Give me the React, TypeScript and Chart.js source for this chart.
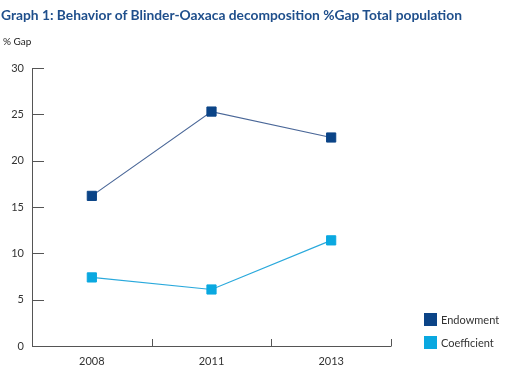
import React, { useEffect, useRef } from "react";
import { Chart, registerables } from "chart.js";

Chart.register(...registerables);

const title = "Graph 1: Behavior of Blinder-Oaxaca decomposition %Gap Total population";
const yAxisTitle = "% Gap";
const categories = ["2008", "2011", "2013"];
const endowment = [16.2, 25.3, 22.5];
const coefficient = [7.4, 6.1, 11.4];
const seriesLabels = ["Endowment", "Coefficient"];
const pointColors = ["#0b4487", "#0aa8e0"];
const lineColors = ["#4a6798", "#2aa9dc"];

const FONT = "Lato, 'Open Sans', sans-serif";
const AXIS = "#555555";

const tickPlugin = {
  id: "inwardTicks",
  afterDraw(chart: any) {
    const { ctx, chartArea, scales } = chart;
    const x = scales.x;
    const y = scales.y;
    ctx.save();
    ctx.strokeStyle = AXIS;
    ctx.lineWidth = 1;
    ctx.beginPath();
    ctx.moveTo(chartArea.left + 0.5, chartArea.top);
    ctx.lineTo(chartArea.left + 0.5, chartArea.bottom + 0.5);
    ctx.lineTo(chartArea.right + 0.5, chartArea.bottom + 0.5);
    y.ticks.forEach((t: any) => {
      const py = Math.round(y.getPixelForValue(t.value)) + 0.5;
      ctx.moveTo(chartArea.left, py);
      ctx.lineTo(chartArea.left + 12, py);
    });
    for (let i = 0; i < categories.length; i++) {
      const p0 = x.getPixelForValue(i);
      const p1 = i < categories.length - 1 ? x.getPixelForValue(i + 1) : p0 + (p0 - x.getPixelForValue(i - 1));
      const px = Math.round((p0 + p1) / 2) + 0.5;
      ctx.moveTo(px, chartArea.bottom);
      ctx.lineTo(px, chartArea.bottom - 7);
    }
    ctx.stroke();
    ctx.restore();
  },
};

export default function App() {
  const ref = useRef<HTMLCanvasElement | null>(null);
  useEffect(() => {
    document.body.style.margin = "0";
    const chart = new Chart(ref.current as HTMLCanvasElement, {
      type: "line",
      data: {
        labels: categories,
        datasets: [
          {
            label: seriesLabels[0],
            data: endowment,
            borderColor: lineColors[0],
            borderWidth: 1.2,
            backgroundColor: pointColors[0],
            pointBackgroundColor: pointColors[0],
            pointBorderColor: pointColors[0],
            pointBorderWidth: 1,
            pointStyle: "rect",
            pointRadius: 6.5,
            tension: 0,
          },
          {
            label: seriesLabels[1],
            data: coefficient,
            borderColor: lineColors[1],
            borderWidth: 1.2,
            backgroundColor: pointColors[1],
            pointBackgroundColor: pointColors[1],
            pointBorderColor: pointColors[1],
            pointBorderWidth: 1,
            pointStyle: "rect",
            pointRadius: 6.5,
            tension: 0,
          },
        ],
      },
      options: {
        animation: false,
        responsive: false,
        layout: { padding: { top: 68, right: 131, left: 0, bottom: 0 } },
        plugins: { legend: { display: false }, tooltip: { enabled: false } },
        scales: {
          x: {
            type: "category",
            offset: true,
            grid: { display: false, drawTicks: false },
            border: { display: false },
            ticks: { color: "#333", font: { family: FONT, size: 11 }, padding: 9 },
            afterFit: (s: any) => { s.height = 28; },
          },
          y: {
            min: 0,
            max: 30,
            grid: { display: false, drawTicks: false },
            border: { display: false },
            ticks: { stepSize: 5, color: "#333", font: { family: FONT, size: 11 }, padding: 8 },
            afterFit: (s: any) => { s.width = 32; },
          },
        },
      },
      plugins: [tickPlugin],
    } as any);
    return () => chart.destroy();
  }, []);

  return (
    <div style={{ position: "relative", width: 522, height: 374, fontFamily: FONT, background: "#fff" }}>
      <canvas ref={ref} width={522} height={374} style={{ position: "absolute", left: 0, top: 0 }} />
      <div style={{ position: "absolute", left: 1, top: 6, fontSize: 13.8, fontWeight: 700, color: "#1f4f8c", whiteSpace: "nowrap" }}>
        {title}
      </div>
      <div style={{ position: "absolute", left: 3, top: 35, fontSize: 10, color: "#222" }}>{yAxisTitle}</div>
      {seriesLabels.map((l, i) => (
        <div key={l} style={{ position: "absolute", left: 424, top: 313 + i * 22.5, height: 13, display: "flex", alignItems: "center", whiteSpace: "nowrap" }}>
          <span style={{ width: 13, height: 13, background: pointColors[i], display: "inline-block" }} />
          <span style={{ marginLeft: 4, fontSize: 11, color: "#333" }}>{l}</span>
        </div>
      ))}
    </div>
  );
}
